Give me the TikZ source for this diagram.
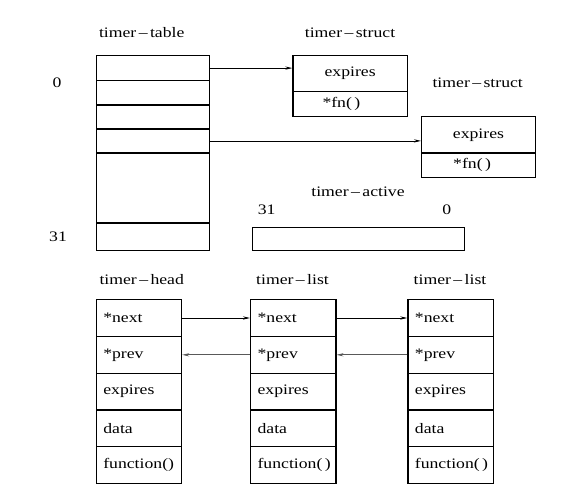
\documentclass[tikz,border=0pt]{standalone}
\usepackage{fontspec}
\setmainfont[FakeStretch=1.22]{Liberation Serif}
\usetikzlibrary{arrows.meta}
\begin{document}
\begin{tikzpicture}[x=1pt,y=-1pt,
  every node/.style={font=\rmfamily\fontsize{14.5}{16}\selectfont},
  cell/.style={draw, line width=1.2pt, inner sep=0pt, anchor=north west},
  row/.style={cell, minimum width=85.3pt, minimum height=36.8pt, text width=71.3pt, inner xsep=7pt, inner ysep=0pt, align=left},
  lbl/.style={inner sep=0pt},
  ptr/.style={-{Stealth[length=7pt,width=3.2pt]}, line width=0.8pt},
  back/.style={ptr, draw=gray!70!black}]
\useasboundingbox (0,0) rectangle (569,500);
% timer table
\node[lbl] (ttl) at (141.7,33) {timer\,–\,table};
\node[cell, minimum width=113.3pt, minimum height=25pt] (t0) at (95.7,55) {};
\node[cell, minimum width=113.3pt, minimum height=24.3pt] (t1) at (95.7,80) {};
\node[cell, minimum width=113.3pt, minimum height=24pt] (t2) at (95.7,104.3) {};
\node[cell, minimum width=113.3pt, minimum height=24pt] (t3) at (95.7,128.3) {};
\node[cell, minimum width=113.3pt, minimum height=70pt] (t4) at (95.7,152.3) {};
\node[cell, minimum width=113.3pt, minimum height=27.7pt] (t5) at (95.7,222.3) {};
\node[lbl] (i0) at (57,83) {0};
\node[lbl] (i31) at (58,237) {31};
% struct 1
\node[lbl] (s1l) at (350,33) {timer\,–\,struct};
\node[cell, minimum width=114.4pt, minimum height=36.3pt] (s1a) at (292.3,54.7) {expires};
\node[cell, minimum width=114.4pt, minimum height=25pt] (s1b) at (292.3,91) {};
\node[anchor=west, xshift=30pt, inner sep=0pt] (s1f) at (s1b.west) {*fn(\,)};
% struct 2
\node[lbl] (s2l) at (477.7,82.7) {timer\,–\,struct};
\node[cell, minimum width=113.7pt, minimum height=36.3pt] (s2a) at (421,116) {expires};
\node[cell, minimum width=113.7pt, minimum height=24.4pt] (s2b) at (421,152.3) {};
\node[anchor=west, xshift=32pt, inner sep=0pt] (s2f) at (s2b.west) {*fn(\,)};
% arrows
\draw[ptr] (t0.east) -- (t0.east -| s1a.west);
\draw[ptr] (t3.east) -- (t3.east -| s2a.west);
% timer active
\node[lbl] (tal) at (358,191.7) {timer\,–\,active};
\node[lbl] (a31) at (266.7,210) {31};
\node[lbl] (a0) at (446.7,210) {0};
\node[cell, minimum width=212.3pt, minimum height=23.3pt] (ta) at (251.7,226.7) {};
% lists
\node[lbl] (hl) at (141.7,280) {timer\,–\,head};
\node[lbl] (al) at (292.5,280) {timer\,–\,list};
\node[lbl] (bl) at (450,280) {timer\,–\,list};
\foreach \c/\x/\f in {h/95.7/function(), a/250/function(\,), b/407.3/function(\,)} {
  \node[row] (\c1) at (\x,299) {*next};
  \node[row] (\c2) at (\x,335.8) {*prev};
  \node[row] (\c3) at (\x,372.6) {expires};
  \node[row] (\c4) at (\x,409.4) {data};
  \node[row] (\c5) at (\x,446.2) {\f};
}
\draw[ptr] (h1.east) -- (a1.west);
\draw[ptr] (a1.east) -- (b1.west);
\draw[back] (a2.west) -- (h2.east);
\draw[back] (b2.west) -- (a2.east);
\end{tikzpicture}
\end{document}
